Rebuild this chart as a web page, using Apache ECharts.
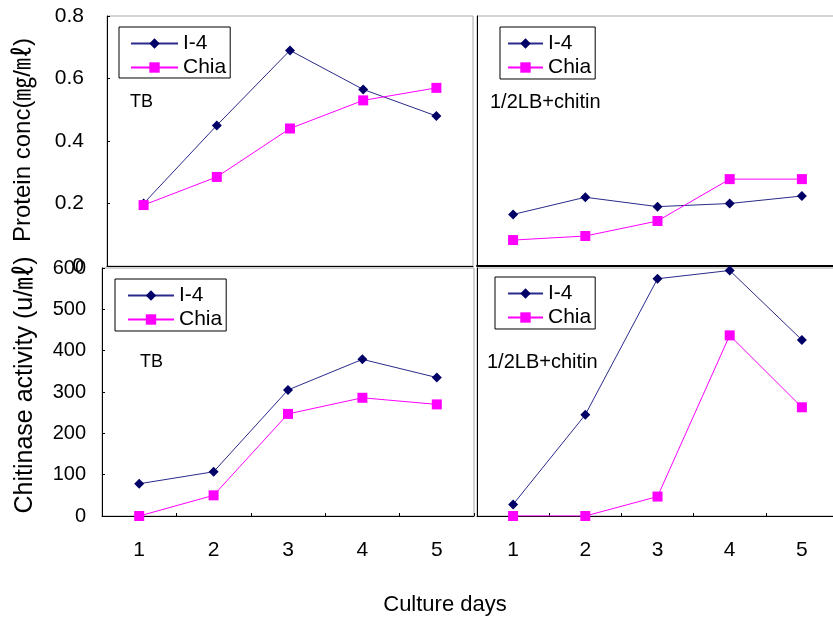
<!DOCTYPE html>
<html>
<head>
<meta charset="utf-8">
<script src="https://cdn.jsdelivr.net/npm/echarts@6.0.0/dist/echarts.min.js"></script>
<style>
  html, body { margin: 0; padding: 0; background: #ffffff; }
  #chart { width: 833px; height: 617px; }
</style>
</head>
<body>
<div id="chart"></div>
<script>
// Culture days on the x axis
const days = ['1', '2', '3', '4', '5'];

// Protein concentration (mg/ml), TB medium
const proteinTB_I4 = [0.20, 0.45, 0.69, 0.565, 0.48];
const proteinTB_Chia = [0.195, 0.285, 0.44, 0.53, 0.57];
// Protein concentration (mg/ml), 1/2LB + chitin medium
const proteinLB_I4 = [0.165, 0.22, 0.19, 0.20, 0.224];
const proteinLB_Chia = [0.083, 0.096, 0.144, 0.278, 0.278];

// Chitinase activity (u/ml), TB medium
const chitinaseTB_I4 = [78, 107, 305, 379, 335];
const chitinaseTB_Chia = [0, 50, 247, 286, 270];
// Chitinase activity (u/ml), 1/2LB + chitin medium
const chitinaseLB_I4 = [28, 245, 574, 594, 426];
const chitinaseLB_Chia = [0, 0, 47, 437, 263];

// Tick labels
const proteinTicks = ['0', '0.2', '0.4', '0.6', '0.8'];
const chitinaseTicks = ['0', '100', '200', '300', '400', '500', '600'];

const strains = ['I-4', 'Chia'];
const media = ['TB', '1/2LB+chitin'];

const FONT = "'Liberation Sans', Arial, 'Noto Sans CJK KR', sans-serif";
const NAVY_LINE = '#2a2a8c';
const NAVY_MARK = '#000066';
const MAGENTA = '#ff00ff';
const FRAME = '#a8a8a8';

const chart = echarts.init(document.getElementById('chart'), null, { renderer: 'canvas' });

function gridBox(left, top, width, height) {
  return {
    left, top, width, height,
    show: true, borderColor: FRAME, borderWidth: 1,
    backgroundColor: 'transparent',
    containLabel: false, outerBoundsMode: 'none'
  };
}

function catAxis(gridIndex, showLabels, lineWidth) {
  return {
    type: 'category', gridIndex, data: days, boundaryGap: true,
    axisLine: { show: true, lineStyle: { color: '#000', width: lineWidth } },
    axisTick: { show: showLabels, inside: true, length: 3, lineStyle: { color: '#000' } },
    axisLabel: { show: showLabels, margin: 24, color: '#000', fontFamily: FONT, fontSize: 21 },
    splitLine: { show: false }
  };
}

function valAxis(gridIndex, max, interval, ticks, showLabels, margin, fontSize) {
  return {
    type: 'value', gridIndex, min: 0, max, interval,
    axisLine: { show: true, lineStyle: { color: '#000', width: 1 } },
    axisTick: { show: showLabels, inside: true, length: 3, lineStyle: { color: '#000' } },
    axisLabel: {
      show: showLabels, margin, color: '#000', fontFamily: FONT, fontSize,
      formatter: v => ticks[Math.round(v / interval)]
    },
    splitLine: { show: false }
  };
}

function lineSeries(name, data, axis) {
  const isI4 = name === 'I-4';
  return {
    type: 'line', name, data,
    xAxisIndex: axis, yAxisIndex: axis,
    symbol: isI4 ? 'diamond' : 'rect',
    symbolSize: 10,
    showAllSymbol: true,
    lineStyle: { color: isI4 ? NAVY_LINE : MAGENTA, width: 1 },
    itemStyle: { color: isI4 ? NAVY_MARK : MAGENTA, borderWidth: 0 },
    emphasis: { disabled: true },
    animation: false,
    z: isI4 ? 2 : 3
  };
}

function legendBox(left, top, itemWidth, padding) {
  return {
    orient: 'vertical', left, top,
    data: strains,
    itemWidth, itemHeight: 13, itemGap: 3,
    padding,
    borderColor: '#000', borderWidth: 1,
    backgroundColor: '#fff',
    selectedMode: false,
    textStyle: { color: '#000', fontFamily: FONT, fontSize: 21 }
  };
}

function label(text, x, y, size) {
  return {
    type: 'text', x, y, silent: true,
    style: { text, fill: '#000', font: size + 'px ' + FONT, align: 'left', verticalAlign: 'middle' }
  };
}

function verticalTitle(text, x, y, size) {
  return {
    type: 'text', x, y, rotation: Math.PI / 2, silent: true,
    style: { text, fill: '#000', font: size + 'px ' + FONT, align: 'center', verticalAlign: 'middle' }
  };
}

chart.setOption({
  animation: false,
  backgroundColor: '#fff',
  grid: [
    gridBox(107, 16, 366, 250),
    gridBox(477, 16, 361, 250),
    gridBox(102, 268, 372, 248),
    gridBox(477, 268, 361, 248)
  ],
  xAxis: [
    catAxis(0, false, 1),
    catAxis(1, false, 2),
    catAxis(2, true, 1),
    catAxis(3, true, 1)
  ],
  yAxis: [
    valAxis(0, 0.8, 0.2, proteinTicks, true, 23, 21),
    valAxis(1, 0.8, 0.2, proteinTicks, false, 23, 21),
    valAxis(2, 600, 100, chitinaseTicks, true, 16, 20),
    valAxis(3, 600, 100, chitinaseTicks, false, 16, 20)
  ],
  legend: [
    legendBox(119, 27, 47, [6, 4, 0, 11]),
    legendBox(500, 27, 35, [6, 4, 1, 7]),
    legendBox(115, 279, 46, [6, 4, 1, 12]),
    legendBox(495, 277, 35, [6, 4, 1, 12])
  ],
  series: [
    lineSeries('I-4', proteinTB_I4, 0),
    lineSeries('Chia', proteinTB_Chia, 0),
    lineSeries('I-4', proteinLB_I4, 1),
    lineSeries('Chia', proteinLB_Chia, 1),
    lineSeries('I-4', chitinaseTB_I4, 2),
    lineSeries('Chia', chitinaseTB_Chia, 2),
    lineSeries('I-4', chitinaseLB_I4, 3),
    lineSeries('Chia', chitinaseLB_Chia, 3)
  ],
  graphic: [
    label(media[0], 130, 102, 18),
    label(media[1], 490, 102, 20),
    label(media[0], 140, 362, 18),
    label(media[1], 487, 362, 20),
    verticalTitle('Protein conc(㎎/㎖)', 23, 140, 24),
    verticalTitle('Chitinase activity (u/㎖)', 25, 385, 25),
    {
      type: 'text', x: 445, y: 605, silent: true,
      style: { text: 'Culture days', fill: '#000', font: '22px ' + FONT, align: 'center', verticalAlign: 'middle' }
    }
  ]
});
</script>
</body>
</html>
